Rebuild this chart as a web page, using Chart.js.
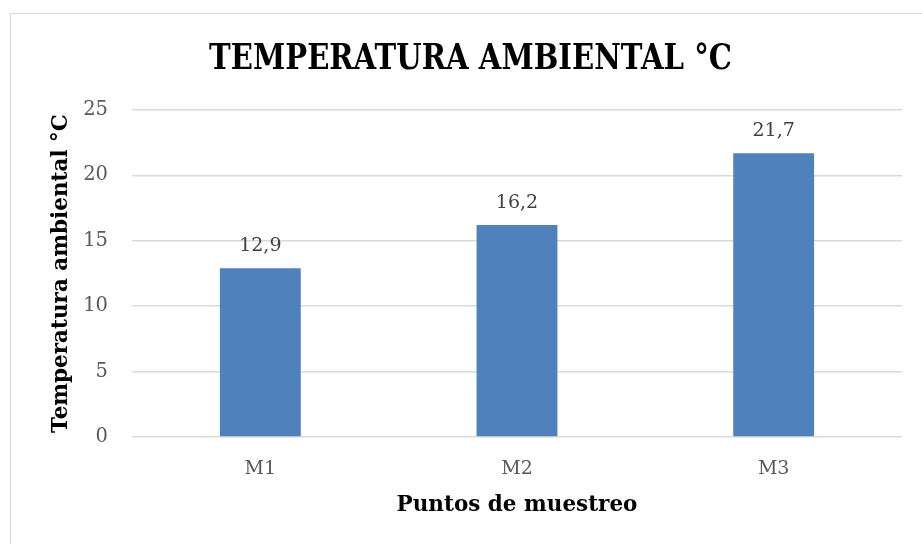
<!DOCTYPE html>
<html>
<head>
<meta charset="utf-8">
<script src="https://cdn.jsdelivr.net/npm/chart.js@4/dist/chart.umd.min.js"></script>
<style>
    html, body { margin: 0; padding: 0; background: #fff; overflow: hidden; }
    #frame { position: absolute; left: 10px; top: 13px; width: 960px; height: 600px; border: 1px solid #d9d9d9; }
    #wrap { position: absolute; left: 0; top: 0; width: 922px; height: 544px; }
</style>
</head>
<body>
<div id="frame"></div>
<div id="wrap"><canvas id="tempChart" width="922" height="544"></canvas></div>
<script>
const puntos = ['M1', 'M2', 'M3'];
const temperaturas = [12.9, 16.2, 21.7];
const yTicks = [0, 5, 10, 15, 20, 25];
const titulo = 'TEMPERATURA AMBIENTAL °C';

const serif = "'DejaVu Serif', serif";

// título estrecho (la fuente serif instalada es ancha, se comprime en horizontal)
const tituloEstrecho = {
    id: 'tituloEstrecho',
    afterDraw(chart) {
        const ctx = chart.ctx;
        ctx.save();
        ctx.font = 'bold 36px ' + serif;
        ctx.fillStyle = '#000';
        ctx.textAlign = 'center';
        ctx.textBaseline = 'alphabetic';
        ctx.translate(470.5, 69);
        ctx.scale(0.81, 1);
        ctx.fillText(titulo, 0, 0);
        ctx.restore();
    }
};

// etiquetas de valor encima de cada barra
const etiquetasValor = {
    id: 'etiquetasValor',
    afterDatasetsDraw(chart) {
        const ctx = chart.ctx;
        const meta = chart.getDatasetMeta(0);
        ctx.save();
        ctx.font = '19px ' + serif;
        ctx.fillStyle = '#404040';
        ctx.textAlign = 'center';
        ctx.textBaseline = 'bottom';
        meta.data.forEach(function (bar, i) {
            const txt = temperaturas[i].toFixed(1).replace('.', ',');
            ctx.fillText(txt, bar.x, bar.y - 13);
        });
        ctx.restore();
    }
};

new Chart(document.getElementById('tempChart').getContext('2d'), {
    type: 'bar',
    data: {
        labels: puntos,
        datasets: [{
            label: 'Temperatura ambiental °C',
            data: temperaturas,
            backgroundColor: '#4f81bd',
            categoryPercentage: 1,
            barPercentage: 0.315
        }]
    },
    options: {
        responsive: false,
        animation: false,
        layout: { padding: { left: 48, right: 20, top: 110, bottom: 0 } },
        plugins: {
            legend: { display: false },
            tooltip: { enabled: false },
            title: { display: false }
        },
        scales: {
            x: {
                grid: { display: false, drawTicks: false },
                border: { display: false },
                ticks: { color: '#595959', font: { family: serif, size: 19 }, padding: 21 },
                title: {
                    display: true,
                    text: 'Puntos de muestreo',
                    color: '#000',
                    font: { family: serif, size: 21.5, weight: 'bold', lineHeight: 1.2 },
                    padding: { top: 0, bottom: 26 }
                },
                afterFit(scale) { scale.height = 107; }
            },
            y: {
                min: 0,
                max: 25,
                afterBuildTicks(scale) { scale.ticks = yTicks.map(v => ({ value: v })); },
                grid: { color: '#d9d9d9', lineWidth: 1.5, drawTicks: false },
                border: { display: false },
                ticks: { color: '#595959', font: { family: serif, size: 19.5 }, padding: 24 },
                title: {
                    display: true,
                    text: 'Temperatura ambiental °C',
                    color: '#000',
                    font: { family: serif, size: 21.5, weight: 'bold', lineHeight: 1.2 },
                    padding: { top: 1, bottom: 0 }
                },
                afterFit(scale) { scale.width = 84; }
            }
        }
    },
    plugins: [etiquetasValor, tituloEstrecho]
});
</script>
</body>
</html>
